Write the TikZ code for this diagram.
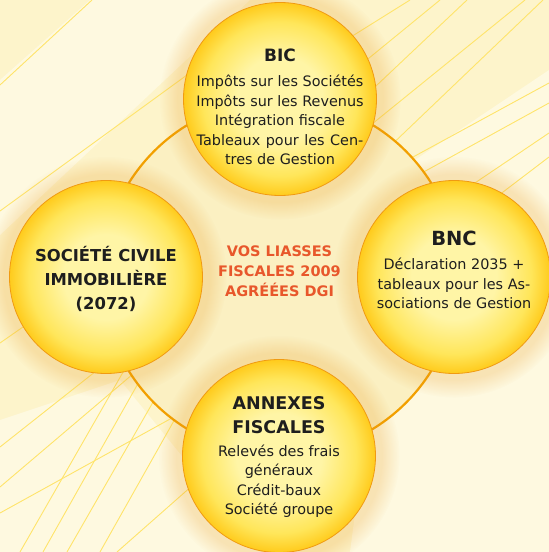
\documentclass[tikz,border=0pt]{standalone}
\usepackage{fontspec}
\setmainfont{DejaVu Sans}
\usepackage{calc}
\usetikzlibrary{shadows,calc}

\definecolor{bgcream}{HTML}{FDF4CB}
\definecolor{bgband}{HTML}{FEF9E0}
\definecolor{ringfill}{HTML}{FBF0C2}
\definecolor{ringline}{HTML}{F2A000}
\definecolor{raycol}{HTML}{FFE46A}
\definecolor{bubcenter}{HTML}{FFF5A6}
\definecolor{bubmid}{HTML}{FFE65A}
\definecolor{bubedge}{HTML}{FFCB1C}
\definecolor{bubline}{HTML}{F09A12}
\definecolor{titlered}{HTML}{E8572B}
\definecolor{inktext}{HTML}{1E1E1E}

\pgfdeclareradialshading{bubbleshade}{\pgfpoint{0bp}{0bp}}{color(0bp)=(bubcenter); color(11bp)=(bubcenter); color(20bp)=(bubmid); color(25bp)=(bubedge); color(50bp)=(bubedge)}

\newcommand{\spreadline}[2]{\makebox[\widthof{#1}][s]{#2}}

\begin{document}
\begin{tikzpicture}[
    x=1pt, y=-1pt,
    bubble/.style={circle, minimum size=193pt, inner sep=0pt, outer sep=0pt, draw=bubline, line width=0.8pt,
        shading=bubbleshade, circular glow={fill=bubline!80!brown, opacity=0.22}, shadow scale=1.02},
    bodytext/.style={align=center, inner sep=0pt, text=inktext, font=\fontsize{14.4}{19.6}\selectfont},
    headtext/.style={align=center, inner sep=0pt, text=inktext, font=\fontsize{16.4}{24}\selectfont\bfseries},
    centertext/.style={align=center, inner sep=0pt, text=titlered, font=\fontsize{14.5}{20}\selectfont\bfseries},
    ray/.style={draw=raycol, line width=0.9pt},
    ring/.style={draw=ringline, line width=2.2pt, fill=ringfill}
]
% Background
\fill[bgcream] (0,0) rectangle (549,552);
\useasboundingbox (0,0) rectangle (549,552);
\fill[bgband] (0,80) -- (90,0) -- (250,0) -- (0,235) -- cycle;
\fill[bgband] (0,420) -- (120,380) -- (260,552) -- (0,552) -- cycle;
\fill[bgband] (400,170) -- (549,70) -- (549,552) -- (350,552) -- cycle;

% Rays
\foreach \xa/\ya/\xb/\yb in {0/85/92/0, 0/211/187/75,
    330/50/410/0, 330/90/440/0, 340/120/467/0, 340/150/525/0, 360/175/543/0,
    380/175/549/83, 400/185/549/103, 420/220/549/133, 440/240/549/157,
    0/343/33/320, 0/447/110/360, 0/487/140/368, 0/513/190/408,
    20/552/130/360, 43/552/140/380, 67/552/160/390, 100/552/180/410, 117/552/210/470}
    \draw[ray] (\xa,\ya) -- (\xb,\yb);

% Ring
\coordinate (hub) at (280,277);
\draw[ring] (hub) circle[radius=178pt];

% Bubbles
\node[bubble] (bic) at (280,99) {};
\node[bubble] (sci) at (106,277) {};
\node[bubble] (bnc) at (454,277) {};
\node[bubble] (annexes) at (279,456) {};

% Texts
\node[bodytext] (bic text) at (280,107) {{\fontsize{17}{24}\selectfont\bfseries BIC}\\[5.4pt]
    Impôts sur les Sociétés\\ Impôts sur les Revenus\\ Intégration fiscale\\
    \spreadline{Impôts sur les Sociétés}{Tableaux pour les Cen-}\\ tres de Gestion};
\node[headtext] (sci text) at (106,278.5) {SOCIÉTÉ CIVILE\\ IMMOBILIÈRE\\ (2072)};
\node[bodytext] (bnc text) at (454,270) {{\fontsize{19.5}{24}\selectfont\bfseries BNC}\\[4.4pt]
    Déclaration 2035 +\\ tableaux pour les As-\\ sociations de Gestion};
\node[bodytext] (annexes text) at (279,457) {{\fontsize{17.5}{24}\selectfont\bfseries ANNEXES}\\[4.4pt]
    {\fontsize{17.5}{24}\selectfont\bfseries FISCALES}\\[3.4pt]
    Relevés des frais\\ généraux\\ Crédit-baux\\ Société groupe};
\node[centertext] (hub text) at (279.5,271.5) {VOS LIASSES\\ FISCALES 2009\\ AGRÉÉES DGI};
\end{tikzpicture}
\end{document}
